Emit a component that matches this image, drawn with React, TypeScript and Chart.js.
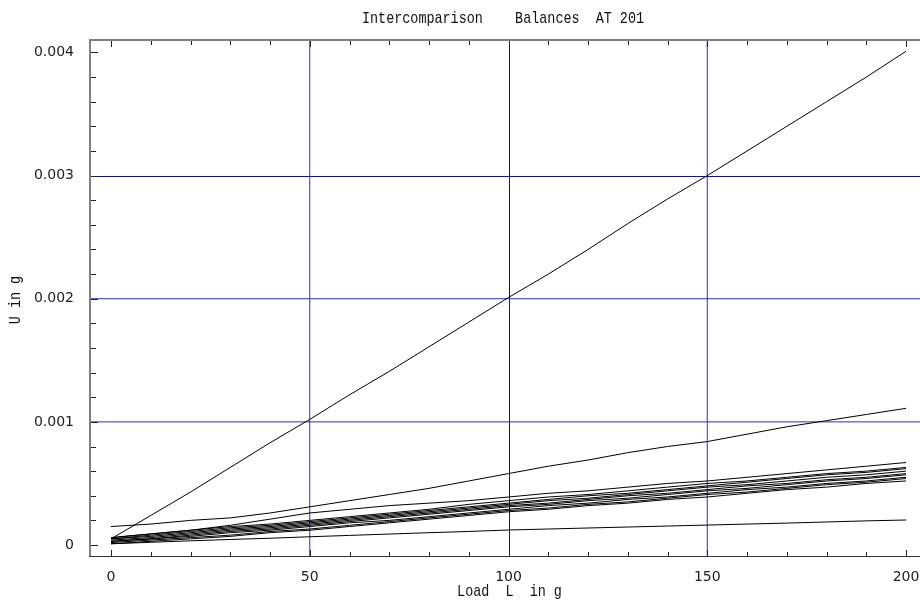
import { useEffect, useRef } from "react";
import { Chart, registerables } from "chart.js";

Chart.register(...registerables);

const titleText = "Intercomparison    Balances  AT 201";
const xTitleText = "Load  L  in g";
const yTitleText = "U in g";

const loads = [0, 10, 20, 30, 40, 50, 60, 70, 80, 90, 100, 110, 120, 130, 140, 150, 160, 170, 180, 190, 200];

const seriesTop = [0.00005, 0.00024, 0.00043, 0.00063, 0.00083, 0.00102, 0.00122, 0.00141, 0.00161, 0.00181, 0.00201, 0.0022, 0.0024, 0.00261, 0.00281, 0.003, 0.0032, 0.0034, 0.0036, 0.0038, 0.00401];
const seriesA = [0.00015, 0.00017, 0.0002, 0.00022, 0.00026, 0.00031, 0.00036, 0.00041, 0.00046, 0.00052, 0.00058, 0.00064, 0.00069, 0.00075, 0.0008, 0.00084, 0.0009, 0.00096, 0.00101, 0.00106, 0.00111];
const seriesB = [0.00006, 0.00009, 0.00012, 0.00016, 0.00021, 0.00026, 0.00029, 0.00032, 0.00034, 0.00036, 0.00039, 0.00042, 0.00044, 0.00047, 0.0005, 0.00052, 0.00055, 0.00058, 0.00061, 0.00064, 0.00067];
const seriesD1 = [0.00006, 0.00009, 0.00012, 0.00015, 0.00017, 0.0002, 0.00023, 0.00026, 0.00029, 0.00033, 0.00036, 0.00039, 0.00041, 0.00044, 0.00047, 0.0005, 0.00052, 0.00055, 0.00058, 0.0006, 0.00063];
const seriesD2 = [0.00005, 0.00008, 0.00011, 0.00014, 0.00016, 0.00019, 0.00022, 0.00025, 0.00028, 0.00031, 0.00034, 0.00037, 0.0004, 0.00042, 0.00045, 0.00048, 0.00051, 0.00054, 0.00057, 0.00059, 0.00062];
const seriesD3 = [0.00005, 0.00007, 0.0001, 0.00013, 0.00015, 0.00018, 0.00021, 0.00024, 0.00027, 0.0003, 0.00033, 0.00036, 0.00038, 0.00041, 0.00044, 0.00047, 0.00049, 0.00052, 0.00055, 0.00057, 0.0006];
const seriesD4 = [0.00004, 0.00006, 0.00009, 0.00012, 0.00014, 0.00017, 0.0002, 0.00023, 0.00026, 0.00029, 0.00032, 0.00034, 0.00037, 0.0004, 0.00042, 0.00045, 0.00048, 0.0005, 0.00053, 0.00055, 0.00058];
const seriesD5 = [0.00003, 0.00005, 0.00008, 0.00011, 0.00013, 0.00016, 0.00019, 0.00022, 0.00025, 0.00028, 0.00031, 0.00033, 0.00036, 0.00038, 0.00041, 0.00044, 0.00046, 0.00049, 0.00052, 0.00054, 0.00057];
const seriesD6 = [0.00003, 0.00005, 0.00007, 0.0001, 0.00012, 0.00015, 0.00018, 0.0002, 0.00023, 0.00026, 0.00029, 0.00032, 0.00034, 0.00037, 0.00039, 0.00042, 0.00045, 0.00047, 0.0005, 0.00052, 0.00055];
const seriesD7 = [0.00002, 0.00004, 0.00006, 0.00008, 0.00011, 0.00013, 0.00016, 0.00019, 0.00022, 0.00025, 0.00028, 0.0003, 0.00033, 0.00035, 0.00038, 0.00041, 0.00043, 0.00046, 0.00049, 0.00051, 0.00054];
const seriesD8 = [0.00001, 0.00003, 0.00005, 0.00007, 0.0001, 0.00012, 0.00015, 0.00018, 0.00021, 0.00024, 0.00027, 0.00029, 0.00032, 0.00034, 0.00037, 0.00039, 0.00042, 0.00045, 0.00047, 0.0005, 0.00052];
const seriesC = [0.00001, 0.000022, 0.000034, 0.000045, 0.000055, 0.000067, 0.000078, 0.000089, 0.0001, 0.00011, 0.000122, 0.00013, 0.000138, 0.000146, 0.000154, 0.000162, 0.00017, 0.000178, 0.000187, 0.000196, 0.000203];

const allSeries = [seriesTop, seriesA, seriesB, seriesD1, seriesD2, seriesD3, seriesD4, seriesD5, seriesD6, seriesD7, seriesD8, seriesC];

const gridX = [50, 100, 150];
const gridY = [0.001, 0.002, 0.003];
const gridXDark = [100];
const gridYDark = [0.003];

const xMinorStep = 10;
const xMajorStep = 50;
const xTickMax = 200;
const yMinorStep = 0.0002;
const yMinorCount = 20;

const TEXT_FONT = '17px "Liberation Mono"';
const TEXT_SX = 0.79;

function scaledText(ctx: CanvasRenderingContext2D, text: string, x: number, y: number, rot: number) {
  ctx.save();
  ctx.translate(x, y);
  if (rot) ctx.rotate(rot);
  ctx.scale(TEXT_SX, 1);
  ctx.font = TEXT_FONT;
  ctx.fillStyle = "#111";
  ctx.textAlign = "center";
  ctx.textBaseline = "alphabetic";
  ctx.fillText(text, 0, 0);
  ctx.restore();
}

const darkGrid = "#14147e";
const lightGrid = "#2e2eb4";

const gridPlugin = {
  id: "gridPlugin",
  beforeDatasetsDraw(chart: any) {
    const { ctx, chartArea: a, scales } = chart;
    const x = scales.x;
    const y = scales.y;
    ctx.save();
    ctx.lineWidth = 1;
    gridX.forEach((v) => {
      const dark = gridXDark.includes(v);
      const px = dark ? Math.round(x.getPixelForValue(v)) + 0.5 : x.getPixelForValue(v);
      ctx.strokeStyle = dark ? darkGrid : lightGrid;
      ctx.beginPath();
      ctx.moveTo(px, a.top);
      ctx.lineTo(px, a.bottom);
      ctx.stroke();
    });
    gridY.forEach((v) => {
      const dark = gridYDark.includes(v);
      const py = dark ? Math.round(y.getPixelForValue(v)) + 0.5 : y.getPixelForValue(v);
      ctx.strokeStyle = dark ? darkGrid : lightGrid;
      ctx.beginPath();
      ctx.moveTo(a.left, py);
      ctx.lineTo(a.right, py);
      ctx.stroke();
    });
    ctx.restore();
  },
};

const framePlugin = {
  id: "framePlugin",
  afterDraw(chart: any) {
    const { ctx, chartArea: a, scales } = chart;
    const x = scales.x;
    const y = scales.y;
    ctx.save();
    ctx.fillStyle = "#808080";
    ctx.fillRect(a.left - 1, a.top - 1, 2, a.bottom - a.top + 1);
    ctx.fillRect(a.left - 1, a.top - 1, a.right - a.left + 1, 2);
    ctx.fillStyle = "#333";
    ctx.fillRect(a.left - 1, Math.round(a.bottom) - 1, a.right - a.left + 1, 1);

    ctx.strokeStyle = "#222";
    ctx.lineWidth = 1;
    ctx.beginPath();
    for (let v = 0; v <= xTickMax; v += xMinorStep) {
      const px = Math.round(x.getPixelForValue(v)) + 0.5;
      const len = v % xMajorStep === 0 ? 6 : 4;
      ctx.moveTo(px, a.bottom - 1);
      ctx.lineTo(px, a.bottom - 1 - len);
      ctx.moveTo(px, a.top + 1);
      ctx.lineTo(px, a.top + 1 + len);
    }
    for (let k = 0; k <= yMinorCount; k++) {
      const py = Math.round(y.getPixelForValue(k * yMinorStep)) + 0.5;
      const len = k % 5 === 0 ? 7 : 5;
      ctx.moveTo(a.left + 1, py);
      ctx.lineTo(a.left + 1 + len, py);
    }
    ctx.stroke();

    scaledText(ctx, titleText, 503, 22.5, 0);
    scaledText(ctx, xTitleText, 509.5, 596, 0);
    scaledText(ctx, yTitleText, 20, 300, -Math.PI / 2);
    ctx.restore();
  },
};

export default function App() {
  const ref = useRef<HTMLCanvasElement | null>(null);
  useEffect(() => {
    if (!ref.current) return;
    const chart = new Chart(ref.current, {
      type: "line",
      data: {
        datasets: allSeries.map((s, i) => ({
          label: "s" + i,
          data: loads.map((l, j) => ({ x: l, y: s[j] })),
          borderColor: "#000",
          borderWidth: 1,
          pointRadius: 0,
          fill: false,
          tension: 0,
        })),
      },
      options: {
        animation: false,
        responsive: false,
        events: [],
        layout: { padding: { top: 40, left: 0, right: 0, bottom: 0 } },
        plugins: { legend: { display: false }, tooltip: { enabled: false }, title: { display: false } },
        scales: {
          x: {
            type: "linear",
            min: -5.283,
            max: 203.52,
            afterFit: (s: any) => {
              s.height = 46;
              s.paddingLeft = 0;
              s.paddingRight = 0;
            },
            border: { display: false },
            grid: { display: false, drawTicks: false },
            ticks: {
              stepSize: 50,
              includeBounds: false,
              autoSkip: false,
              maxRotation: 0,
              padding: 12,
              color: "#222",
              font: { family: "DejaVu Sans", size: 14 },
              callback: (v: any) => String(v),
            },
          },
          y: {
            type: "linear",
            min: -0.0000974,
            max: 0.0041014,
            afterFit: (s: any) => {
              s.width = 90;
              s.paddingTop = 0;
              s.paddingBottom = 0;
            },
            border: { display: false },
            grid: { display: false, drawTicks: false },
            ticks: {
              stepSize: 0.001,
              includeBounds: false,
              padding: 16,
              color: "#222",
              font: { family: "DejaVu Sans", size: 14 },
              callback: (v: any) => (Math.abs(v) < 1e-12 ? "0" : Number(v).toFixed(3)),
            },
          },
        },
      },
      plugins: [gridPlugin, framePlugin],
    });
    return () => chart.destroy();
  }, []);
  return (
    <div style={{ position: "absolute", left: 0, top: 0, width: 920, height: 603, background: "#fff" }}>
      <canvas ref={ref} width={920} height={603} style={{ display: "block" }} />
    </div>
  );
}
